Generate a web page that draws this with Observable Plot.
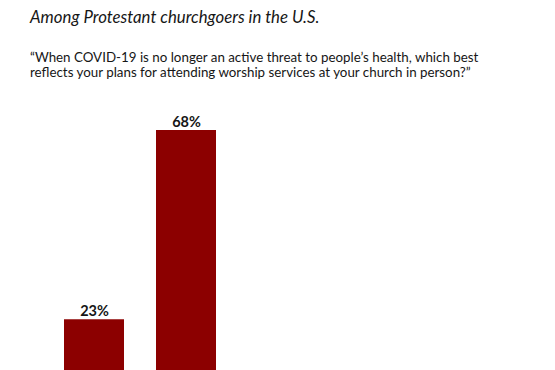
<!DOCTYPE html>
<html>
<head>
<meta charset="utf-8">
<script src="https://cdn.jsdelivr.net/npm/d3@7"></script>
<script src="https://cdn.jsdelivr.net/npm/@observablehq/plot@0.6"></script>
<style>
  html, body { margin: 0; padding: 0; background: #fff; width: 555px; height: 370px; overflow: hidden; }
  #wrap { position: relative; width: 555px; height: 370px; font-family: Lato, "Noto Sans", sans-serif; color: #161616; }
  #title { position: absolute; left: 30px; top: 6px; font-size: 16.8px; line-height: normal; font-style: italic; white-space: nowrap; }
  #question { position: absolute; left: 30px; top: 49.5px; font-size: 13.35px; line-height: 15px; white-space: nowrap; }
  #chart { position: absolute; left: 0; top: 100px; }
</style>
</head>
<body>
<div id="wrap">
  <div id="title">Among Protestant churchgoers in the U.S.</div>
  <div id="question">“When COVID-19 is no longer an active threat to people’s health, which best<br>reflects your plans for attending worship services at your church in person?”</div>
  <div id="chart"></div>
</div>
<script>
const categories = ["A", "B"];
const values = [23, 68];
const labels = ["23%", "68%"];

const data = categories.map((c, i) => ({category: c, value: values[i], label: labels[i]}));

const chart = Plot.plot({
  width: 555,
  height: 330,
  marginTop: 30,
  marginBottom: 14,
  marginLeft: 31,
  marginRight: 307,
  style: {background: "transparent", fontFamily: "Lato, 'Noto Sans', sans-serif"},
  x: {domain: categories, padding: 0.35, axis: null},
  y: {domain: [0, 68], axis: null},
  marks: [
    Plot.barY(data, {x: "category", y: "value", fill: "#8c0000"}),
    Plot.text(data, {x: "category", y: "value", text: "label", lineAnchor: "bottom", dy: -4, fontSize: 14.5, fontWeight: "bold", fill: "#161616"})
  ]
});
document.getElementById("chart").appendChild(chart);
</script>
</body>
</html>
